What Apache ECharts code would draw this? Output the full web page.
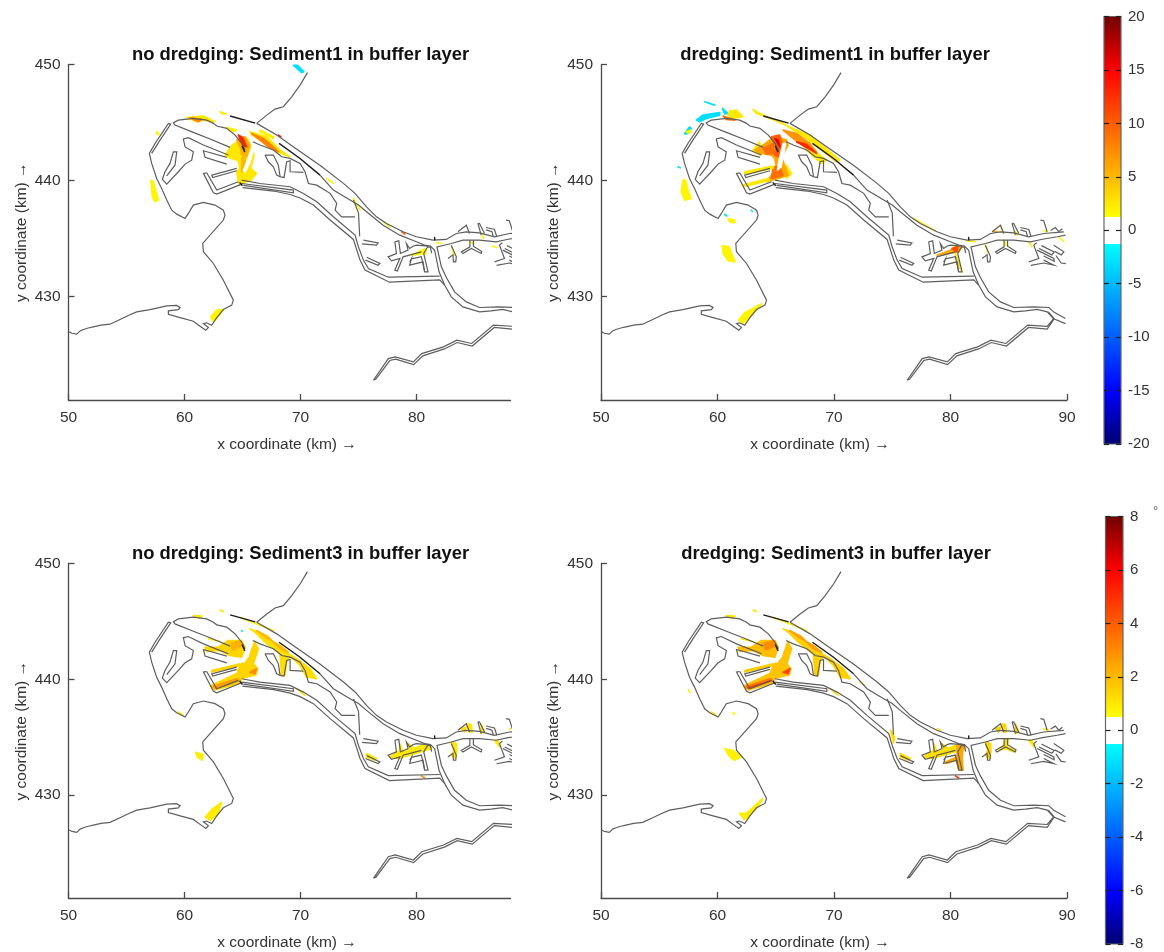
<!DOCTYPE html>
<html><head><meta charset="utf-8">
<style>html,body{margin:0;padding:0;background:#fff}#c{width:1164px;height:952px;filter:blur(0.45px)}</style>
<script src="https://cdn.jsdelivr.net/npm/echarts@6/dist/echarts.min.js"></script>
</head><body><div id="c"></div>
<script>
// ---- tick labels / text
const xTicks=[50,60,70,80], xTicksWide=[50,60,70,80,90], yTicks=[430,440,450];
const titles=['no dredging: Sediment1 in buffer layer','dredging: Sediment1 in buffer layer','no dredging: Sediment3 in buffer layer','dredging: Sediment3 in buffer layer'];
const barTop=[-20,20], barBottom=[-8,8];

// ---- outlines in km (x, y)
const westCoast=[[50.05,426.97],[50.3,426.85],[50.71,426.77],[51.0,427.05],[51.28,427.17],[51.7,427.3],[52.14,427.4],[52.8,427.55],[53.58,427.63],[54.44,428.03],[55.2,428.4],[55.88,428.69],[57.03,428.89],[58.47,429.21],[59.3,429.25],[59.62,429.07],[59.47,428.89],[58.61,428.78],[58.61,428.49],[59.62,428.2],[60.76,427.89],[61.34,427.46],[61.83,427.11],[62.06,427.34],[61.63,427.69],[61.9,427.75],[62.34,427.54],[62.78,428.2],[63.35,428.89],[64.07,429.27],[64.21,429.7],[63.35,431.42],[62.49,432.86],[61.63,433.87],[61.57,434.59],[63.35,436.6],[63.49,437.02],[63.35,437.45],[62.63,437.89],[61.63,438.12],[60.76,437.89],[60.33,437.17],[60.05,436.74],[59.33,437.11],[58.9,437.45],[58.47,438.32],[58.03,439.32],[57.6,440.18],[57.17,441.48],[56.97,442.34],[57.46,443.2],[58.61,444.93],[58.81,444.87],[57.89,443.49],[57.17,442.34]];
const peninsula=[[63.93,442.86],[62.2,443.58],[60.76,444.15],[59.18,444.78],[59.04,444.98],[59.47,445.21],[60.76,445.36],[61.91,445.21],[62.49,444.93],[62.78,444.7],[63.64,444.5],[64.36,443.92],[64.93,443.2],[65.22,442.63]];
const dockA=[[63.78,442.2],[61.63,443.06],[60.33,443.69],[59.9,443.58],[60.05,442.9],[60.76,442.48],[60.62,441.76],[60.05,441.42],[59.47,440.76],[58.47,439.7],[58.09,440.1],[58.32,440.76],[58.75,441.48],[59.04,442.48],[59.33,442.48],[59.18,441.33],[58.47,440.4]];
const dockB=[[63.64,442.0],[61.63,442.57],[61.77,442.0],[63.64,441.42]];
const dockC=[[64.5,441.05],[62.34,440.47],[62.43,440.27],[64.5,440.85]];
const dockD=[[61.91,440.67],[61.63,440.62],[62.49,438.95],[62.78,438.83],[64.93,439.7]];
const dockD2=[[61.91,440.67],[62.78,439.18],[64.64,439.9]];
const stripH=[[64.93,439.75],[69.38,439.18],[69.38,438.95],[65.07,439.58]];
const breakwaterN=[[70.6,449.3],[69.96,448.23],[69.24,447.22],[68.52,446.36],[67.8,446.16],[67.09,445.64],[66.22,444.93]];
const northBank=[[66.22,444.93],[67.95,443.92],[69.4,442.9],[71.7,441.3],[73.7,439.76],[74.7,438.9],[75.69,437.74],[76.55,436.88],[77.41,436.31],[78.84,435.59],[79.99,435.16],[81.42,434.87],[82.56,434.93],[83.43,435.44],[84.29,435.59],[85.43,435.5],[86.72,435.16],[88.0,435.44],[89.73,435.59]];
const southBank=[[71.68,440.47],[72.83,439.18],[74.27,438.32],[75.0,437.9],[75.69,437.31],[77.12,436.16],[78.56,435.3],[79.99,434.73],[80.7,434.44],[81.2,434.35],[81.56,434.0],[81.94,432.14],[82.42,431.0],[83.0,429.98],[84.0,429.12],[85.43,428.69],[86.43,428.78],[87.44,428.9],[88.3,428.69],[88.85,428.1],[89.87,427.68]];
const rightBank=[[89.87,435.3],[89.16,435.16],[87.9,434.95],[86.86,434.73],[85.43,434.87],[84.0,434.87],[83.0,434.58],[81.76,434.29],[82.14,432.57],[82.57,431.65],[83.28,430.41],[84.29,429.55],[85.43,429.07],[87.15,429.12],[88.44,429.07],[88.9,428.65],[89.87,428.12]];
const hartelN=[[64.93,440.04],[66.5,439.75],[69.1,439.47],[70.25,438.89],[71.4,438.18],[72.83,436.88],[74.7,435.3],[74.99,434.3],[75.42,433.15],[75.85,432.43],[77.57,431.68],[82.0,431.77]];
const hartelS=[[65.0,439.4],[67.7,439.1],[69.1,438.8],[69.96,438.5],[71.11,437.89],[72.55,436.6],[74.56,434.93],[75.13,433.15],[75.56,432.29],[77.66,431.25],[82.0,431.45],[82.42,431.0]];
const europoortE=[[65.88,443.35],[66.51,443.06],[67.66,442.63],[68.38,442.05],[69.1,441.91],[69.96,441.48],[70.39,440.76],[70.68,439.75],[71.4,439.61],[72.55,438.9],[73.12,438.03],[72.98,437.46],[73.55,436.88],[74.7,436.88]];
const europoortF=[[66.94,442.2],[67.66,442.2],[68.09,441.33],[68.24,440.33],[68.58,440.27],[68.81,441.62],[69.1,441.71],[69.1,440.76],[70.25,440.7]];
const europoortG=[[66.94,442.2],[67.23,441.62],[67.66,441.19],[67.95,440.47],[68.24,440.33]];
const innerLine=[[74.56,438.32],[75.0,437.2],[75.1,435.2]];
const stub1=[[75.42,434.87],[76.69,434.64],[76.55,434.44],[75.3,434.55]];
const stub2=[[75.71,433.4],[76.84,432.86],[76.69,432.71],[75.6,433.15]];
const botlek1=[[78.13,434.73],[78.47,434.81],[78.61,433.72],[79.27,434.01],[79.13,434.58],[79.41,434.15],[79.7,434.35],[79.99,434.44],[80.99,434.35]];
const botlek2=[[78.13,434.73],[78.27,433.72],[77.55,433.43],[77.84,433.09],[78.56,433.29],[78.13,432.28],[78.35,432.22],[78.84,433.43],[80.42,433.86]];
const botlek3=[[79.56,433.25],[80.42,433.45],[80.7,432.14],[80.99,432.14],[80.62,433.72],[80.99,434.35]];
const botlek4=[[79.41,433.0],[79.56,433.25],[79.41,432.72],[80.56,433.0],[80.7,432.14]];
const loopHook=[[80.9,434.3],[81.2,434.25],[81.3,433.75]];
const pet1=[[83.57,435.59],[84.29,436.16],[84.57,435.44]];
const pet2=[[85.29,436.31],[85.43,436.3],[85.86,435.44]];
const pet2b=[[85.29,436.31],[85.57,435.3]];
const pet3=[[86.0,435.96],[86.72,435.79],[86.92,435.16]];
const pet3b=[[86.0,435.76],[86.5,435.6],[86.62,435.16]];
const pet4=[[87.72,436.6],[88.0,436.54],[88.3,435.59]];
const pet5=[[88.6,435.7],[89.0,435.95],[89.3,435.6],[89.6,435.85]];
const sth1=[[82.99,434.44],[83.43,433.43],[83.38,433.0],[83.18,433.0],[83.14,433.6],[82.71,433.29]];
const sth2=[[84.6,434.87],[84.6,434.29],[83.86,433.86],[84.0,433.72],[84.72,434.15],[85.57,433.72],[85.62,433.9],[84.9,434.35],[84.9,434.87]];
const eCluster1=[[86.72,433.0],[87.58,433.29],[87.15,434.44],[87.4,434.65]];
const eCluster2=[[87.44,434.01],[88.87,433.29],[88.9,433.05],[88.0,433.5]];
const eCluster3=[[88.0,433.15],[88.87,432.71],[88.0,432.9],[86.9,432.7]];
const eCluster4=[[88.87,434.44],[89.73,433.86],[89.5,433.6],[88.95,433.9]];
const eCluster5=[[87.8,434.4],[88.9,433.85],[88.7,433.6],[87.6,434.15]];
const eCluster6=[[89.05,433.55],[89.5,432.9],[89.9,432.85]];
const southDike=[[76.28,422.8],[77.57,424.67],[78.15,424.82],[79.73,424.38],[80.45,425.1],[82.32,425.68],[83.47,426.25],[84.76,425.97],[86.63,427.55],[88.3,427.45],[88.87,428.12],[88.4,428.7],[88.9,428.1],[88.3,427.2],[86.7,427.35],[84.8,425.75],[83.5,426.05],[82.4,425.5],[80.55,424.9],[79.75,424.15],[78.2,424.62],[77.7,424.5],[76.5,422.9],[76.28,422.8]];
const greyOutlines=[westCoast,peninsula,dockA,dockB,dockC,dockD,dockD2,stripH,breakwaterN,northBank,southBank,rightBank,hartelN,hartelS,europoortE,europoortF,europoortG,innerLine,stub1,stub2,botlek1,botlek2,botlek3,botlek4,loopHook,pet1,pet2,pet2b,pet3,pet3b,pet4,pet5,sth1,sth2,eCluster1,eCluster2,eCluster3,eCluster4,eCluster5,eCluster6,southDike];
const darkLines=[[[63.93,445.56],[66.1,444.95]],[[68.15,443.2],[69.96,441.9],[71.68,440.47]],[[64.95,443.0],[65.2,442.45]],[[81.55,435.15],[81.58,434.85]],[[64.75,439.85],[65.0,439.55]]];

// ---- sediment patches in km
const p1Cyan=[[69.38,449.95],[69.67,450.0],[70.3,449.38],[70.1,449.3]];
const p1Basin=[[63.5,442.2],[64.1,443.05],[64.79,443.5],[65.36,443.7],[65.75,442.91],[66.0,442.2],[65.7,441.05],[66.2,440.62],[65.75,440.08],[65.07,439.8],[64.7,439.65],[64.5,440.76],[64.75,441.05],[64.65,441.7],[63.93,441.95]];
const p1White=[[65.94,443.2],[66.1,443.14],[65.6,441.48],[65.22,440.76],[65.08,440.85],[65.42,441.76]];
const p1Orange=[[64.5,443.49],[65.22,443.78],[65.65,443.06],[65.36,442.05],[64.93,442.2],[64.79,442.91]];
const p1Orange2=[[64.93,441.91],[65.22,442.2],[65.22,441.19],[64.93,440.76]];
const p1Red=[[64.64,443.92],[65.02,443.72],[65.36,442.91],[65.07,442.97]];
const p1Top=[[60.19,445.44],[61.63,445.56],[62.63,445.07],[61.63,445.21],[61.05,445.07]];
const p1TopO=[[60.48,445.41],[61.48,445.27],[61.2,445.07]];
const p1Spot=[[63.06,445.93],[63.58,445.73],[63.29,445.73]];
const p1ChanY=[[65.65,444.21],[67.09,443.78],[68.24,442.63],[69.1,442.05],[67.95,442.48],[66.8,443.35],[65.79,443.92]];
const p1ChanO=[[65.79,444.06],[66.8,443.63],[67.66,442.91],[68.09,442.48],[67.23,442.91]];
const p1Ribbon=[[66.51,444.35],[67.66,443.78],[67.66,443.63],[66.51,444.21]];
const p1Dark=[[68.09,443.92],[68.3,443.78]];
const p1Small=[[63.64,444.58],[64.5,444.35],[64.21,444.21]];
const p1West=[[57.1,440.04],[57.32,439.9],[57.75,438.32],[57.46,438.17],[57.23,438.6]];
const p1Dot=[[57.6,444.2],[57.8,444.05],[57.65,443.95]];
const p1South=[[62.26,428.26],[62.78,428.84],[63.35,428.89],[62.78,428.12],[62.43,427.89]];
const eastA=[[72.26,440.19],[72.83,439.76]];
const eastB=[[74.56,438.47],[75.13,437.46]];
const eastC=[[77.14,436.45],[77.72,436.02]];
const eastD=[[78.72,435.59],[79.01,435.39]];
const eastE=[[81.74,434.64],[82.17,434.58]];
const eastF=[[79.6,433.58],[80.74,434.15],[80.82,433.72]];
const eastG=[[83.03,434.3],[83.24,433.58]];
const eastH=[[84.62,434.73],[84.9,434.58]];
const eastI=[[85.62,435.45],[85.76,435.02]];
const eastJ=[[86.57,434.35],[86.92,434.21]];
const values1=[[-3,p1Cyan],[2.5,p1Basin],[5.5,p1Orange],[5,p1Orange2],[13,p1Red],[0,p1White],[2.5,p1Top],[8,p1TopO],[2.5,p1Spot],[2.5,p1ChanY],[8,p1ChanO],[2,p1Ribbon],[14,p1Dark],[2,p1Small],[1.8,p1West],[1.8,p1Dot],[1.8,p1South],[1.8,eastA],[1.8,eastB],[1.8,eastC],[10,eastD],[1.8,eastE],[1.8,eastF],[1.8,eastG],[1.8,eastH],[1.8,eastI],[1.8,eastJ]];

const p2Cyan1=[[58.18,445.21],[58.75,445.64],[60.19,445.87],[60.19,445.64],[59.04,445.35],[58.47,445.07]];
const p2Cyan2=[[58.9,446.79],[59.76,446.5]];
const p2Cyan3=[[60.42,446.22],[60.9,445.79],[60.62,445.73]];
const p2Cyan4=[[57.18,444.06],[57.61,444.63],[57.75,444.49],[57.32,444.0]];
const p2Cyan5=[[56.6,441.19],[56.8,441.1]];
const p2Cyan6=[[60.6,437.1],[60.8,436.95]];
const p2Cyan7=[[62.9,437.45],[63.0,437.35]];
const p2West=[[57.04,440.04],[57.26,440.04],[57.46,439.18],[57.75,438.46],[57.18,438.31],[56.89,439.03]];
const p2Dot=[[57.3,444.2],[57.75,444.35],[57.6,444.05]];
const p2TopY=[[61.05,446.0],[61.62,446.07],[62.19,445.5],[61.33,445.35],[60.9,445.64]];
const p2TopO=[[60.47,445.56],[61.48,445.21],[60.76,445.27]];
const p2Patch=[[60.9,436.73],[61.48,436.59],[61.48,436.36],[61.05,436.45]];
const p2Long=[[63.05,446.13],[63.63,445.79],[66.49,444.49],[67.92,443.92],[70.5,441.76],[70.2,441.62],[67.64,443.63],[65.63,444.92],[63.34,445.79]];
const p2Basin=[[63.2,442.63],[63.91,443.06],[64.48,443.49],[65.06,443.77],[65.92,443.49],[66.06,443.06],[65.49,442.05],[65.92,440.9],[66.06,440.47],[65.2,440.18],[64.2,439.9],[65.06,441.05],[64.91,441.91],[64.63,442.19],[63.77,442.34]];
const p2Y1=[[63.0,442.57],[63.63,443.34],[63.63,442.19]];
const p2Y2=[[65.92,441.33],[66.35,440.61],[65.92,440.18]];
const p2Core=[[64.63,443.77],[65.34,443.92],[65.63,442.91],[65.2,442.05],[64.91,442.19],[65.06,442.91]];
const p2CoreDark=[[64.95,443.6],[65.2,443.5],[65.35,442.9]];
const p2Core2=[[63.91,442.77],[64.77,443.2],[64.91,442.34],[64.2,442.28]];
const p2Low=[[64.77,441.19],[65.34,441.19],[65.63,440.47],[64.63,440.18]];
const p2White=[[65.63,443.2],[65.85,443.2],[65.45,441.19],[65.15,440.9],[65.29,441.76]];
const p2Rib=[[62.34,440.76],[64.77,441.25],[64.77,441.05],[62.34,440.56]];
const p2Arm=[[62.19,439.61],[64.34,440.18],[64.48,440.04],[62.48,439.52]];
const p2ChanY=[[66.49,444.06],[69.35,441.76],[68.93,441.48],[67.64,442.63]];
const p2ChanO=[[65.63,444.35],[66.78,444.06],[67.92,443.2],[68.5,442.48],[67.64,442.91],[66.49,443.63]];
const p2ChanD=[[66.78,443.34],[67.64,443.1],[68.5,442.34]];
const p2South=[[61.8,428.0],[62.3,428.6],[63.8,429.4],[63.0,428.5],[62.2,427.7]];
const p2Off=[[60.4,434.4],[61.0,434.3],[61.5,433.0],[60.9,433.1],[60.5,433.7]];
const p2E1=[[76.84,436.74],[78.7,435.67]];
const p2E2=[[78.84,433.57],[79.99,434.01],[80.56,434.44],[80.99,434.29],[80.7,433.86]];
const p2E3=[[80.13,434.15],[80.62,434.29],[80.56,433.86]];
const p2E4=[[80.42,433.72],[81.0,432.14],[80.56,433.0]];
const p2E5=[[81.42,434.81],[82.14,434.73]];
const p2E6=[[82.99,434.5],[83.2,433.8]];
const p2E7=[[84.57,434.87],[84.8,434.4]];
const p2E8=[[85.57,435.6],[85.72,435.3]];
const p2E9=[[84.29,436.1],[84.57,435.44]];
const p2E10=[[86.72,434.7],[87.0,434.3]];
const p2E11=[[88.0,435.7],[88.25,435.6]];
const p2E12=[[89.3,435.16],[89.73,434.73]];
const p2E13=[[83.7,435.6],[84.0,435.6]];
const values2=[[-3,p2Cyan1],[-3,p2Cyan2],[-3,p2Cyan3],[-3,p2Cyan4],[-3,p2Cyan5],[-3,p2Cyan6],[-3,p2Cyan7],[1.8,p2West],[1.8,p2Dot],[2.5,p2TopY],[9,p2TopO],[1.8,p2Patch],[2.5,p2Long],[2.5,p2Y1],[2.5,p2Y2],[6,p2Basin],[9,p2Core2],[9,p2Low],[10,p2Core],[16,p2CoreDark],[0,p2White],[2.5,p2Rib],[2.5,p2Arm],[2.5,p2ChanY],[7,p2ChanO],[13,p2ChanD],[1.8,p2South],[1.8,p2Off],[2,p2E1],[6,p2E2],[11,p2E3],[2.5,p2E4],[1.8,p2E5],[1.8,p2E6],[1.8,p2E7],[1.8,p2E8],[1.8,p2E9],[1.8,p2E10],[1.8,p2E11],[1.8,p2E12],[6,p2E13]];

const s3Arm=[[61.76,442.77],[62.91,442.77],[63.77,443.35],[64.92,443.35],[65.21,442.77],[64.92,441.91],[63.92,442.05],[63.06,442.49],[61.91,442.4]];
const s3Core=[[64.0,443.1],[64.78,443.3],[64.85,442.8],[64.1,442.55]];
const s3White=[[65.79,443.49],[65.98,443.43],[65.4,441.91],[65.1,441.48]];
const s3T=[[64.78,441.19],[65.6,441.91],[65.9,443.49],[66.36,442.63],[65.95,441.34],[66.3,440.91],[66.15,440.37],[64.92,440.09],[64.78,439.66],[62.63,439.08],[62.24,439.41],[64.5,440.5]];
const s3Tip=[[66.22,440.91],[66.07,440.47],[65.64,440.6]];
const s3Low=[[62.63,439.18],[64.78,439.9],[64.49,440.04],[62.42,439.38]];
const s3Rib=[[62.34,440.76],[64.78,441.34],[64.78,441.2],[62.34,440.62]];
const s3Chan=[[65.64,444.35],[67.08,443.78],[68.23,442.63],[69.67,441.77],[70.82,440.91],[71.39,440.04],[70.53,440.19],[69.95,441.19],[69.09,442.05],[68.8,441.48],[68.66,440.33],[68.37,440.33],[68.23,442.2],[66.94,443.2],[66.07,444.07]];
const s3ChanO=[[66.22,444.21],[67.22,443.64],[68.23,442.63],[68.95,442.34],[68.23,442.92],[66.94,443.64]];
const s3Top=[[60.76,445.5],[61.48,445.45],[61.33,445.27]];
const s3Top2=[[63.06,445.99],[63.34,445.85]];
const s3Thin=[[64.78,445.36],[67.65,444.21]];
const s3Near=[[59.46,437.17],[59.9,436.88]];
const s3Bank=[[69.67,439.18],[70.38,438.6]];
const s3Pen=[[62.05,443.5],[63.06,443.26]];
const s3Blue=[[64.92,444.21],[65.0,444.15]];
const s3South=[[61.8,428.1],[62.4,428.8],[63.2,429.35],[62.9,428.4],[62.2,427.8]];
const s3Off=[[60.96,433.7],[61.6,433.5],[61.5,433.0],[61.1,433.3]];
const s4Off=[[60.61,434.0],[61.32,433.87],[62.04,433.29],[61.47,433.0],[61.04,433.29]];
const s4South=[[61.9,428.41],[62.47,428.41],[63.9,429.7],[63.47,428.98],[62.33,427.84]];
const s4Spot1=[[57.5,439.1],[57.65,438.85]];
const s4Spot2=[[61.3,437.1],[61.5,437.0]];
const s4Red=[[62.61,439.24],[64.48,439.82]];
const s4Long=[[72.2,439.8],[72.6,439.5]];
const s4Mid=[[74.85,435.6],[75.2,435.0],[75.1,434.5]];
const eBot=[[77.7,433.29],[78.56,433.86],[78.56,434.44],[78.84,433.72],[79.41,433.86],[79.27,434.44],[79.84,434.01],[80.42,434.29],[81.13,434.29],[81.28,434.01],[80.85,433.86],[79.41,433.43],[78.41,433.15]];
const eBot2=[[79.56,432.86],[80.56,433.29],[80.56,434.29],[81.13,434.29],[81.0,433.29],[81.08,432.14],[80.85,432.14],[80.42,433.0],[79.7,432.72]];
const eSth1=[[83.0,434.58],[83.43,434.44],[83.48,433.72],[83.28,433.15],[83.0,433.43],[83.2,433.86]];
const eSth2=[[84.72,434.87],[84.95,434.87],[84.86,434.15],[85.57,433.86],[85.43,433.72],[84.72,434.01],[84.14,433.86],[84.57,434.29]];
const ePet1=[[84.43,436.16],[84.72,436.08],[84.8,435.44],[84.52,435.44]];
const ePet2=[[83.86,435.73],[84.29,435.87],[84.14,435.44]];
const ePet3=[[85.57,436.16],[85.86,435.44],[85.57,435.3]];
const eQ=[[86.72,434.73],[87.0,434.73],[87.15,434.15]];
const eEnd=[[88.0,435.73],[88.44,435.59]];
const eN=[[78.9,435.73],[79.13,435.59]];
const eStub=[[75.69,433.58],[76.55,433.15],[76.4,433.0],[75.69,433.29]];
const eHart=[[80.42,431.65],[80.7,431.48]];
const values3=[[1,s3Near],[1,s3Top],[1,s3Top2],[0.8,s3Thin],[1,s3Pen],[1.4,s3T],[2.6,s3Low],[3,s3Tip],[1.4,s3Rib],[1.4,s3Arm],[2.2,s3Core],[0,s3White],[1.2,s3Chan],[2,s3ChanO],[1,s3Bank],[-1,s3Blue],[0.9,s3South],[0.9,s3Off],[1,eBot],[1,eSth1],[1,ePet1],[1,ePet3],[1.2,ePet2],[1,eQ],[0.9,eEnd],[1,eStub],[3,eHart]];
const values4=[[1,s3Near],[1,s3Top],[1,s3Top2],[0.8,s3Thin],[1,s3Pen],[1.8,s3T],[3.4,s3Low],[5,s4Red],[4.5,s3Tip],[1.6,s3Rib],[1.9,s3Arm],[3,s3Core],[0,s3White],[1.5,s3Chan],[2.6,s3ChanO],[1,s3Bank],[0.9,s4South],[0.8,s4Off],[0.8,s4Spot1],[0.8,s4Spot2],[1,s4Long],[1.2,s4Mid],[1.2,eBot],[2.4,eBot2],[1.4,eSth1],[1.2,eSth2],[1.4,ePet1],[1.5,ePet2],[1.4,ePet3],[1,eQ],[1,eEnd],[1,eN],[1.2,eStub],[5,eHart]];

// ---- colour scale (value as a share of the colour bar's half range)
const colourStops=[[-1,[0,0,112]],[-0.75,[0,0,255]],[-0.0625,[0,255,255]],[-0.0625,[255,255,255]],[0.0625,[255,255,255]],[0.0625,[255,255,0]],[0.75,[255,0,0]],[1,[112,0,0]]];
function rgb(c){return 'rgb('+c.map(Math.round).join(',')+')';}
function colourOf(t){
  if(t===0) return '#fff';
  for(let i=0;i<colourStops.length-1;i++){
    const a=colourStops[i],b=colourStops[i+1];
    if(t>=a[0]&&t<=b[0]&&b[0]>a[0]){
      if(a[1][0]===255&&a[1][1]===255&&a[1][2]===255) continue;
      const f=(t-a[0])/(b[0]-a[0]);
      return rgb(a[1].map((v,k)=>v+(b[1][k]-v)*f));
    }
  }
  return '#fff';
}
const gradient=colourStops.map(s=>({offset:1-(s[0]+1)/2,color:rgb(s[1])})).reverse();

// ---- layout
const INK='#333', AXIS='#4a4a4a', FONT='"Liberation Sans",Arial,sans-serif';
const panels=[
 {l:68.5,t:64.5,w:442,h:335.5,xmax:88.1,ticks:xTicks,vals:values1,range:20,nameShift:5,titleCentre:300.5},
 {l:601,t:64.5,w:466,h:335.5,xmax:90,ticks:xTicksWide,vals:values2,range:20,nameShift:28,titleCentre:835},
 {l:68.5,t:563.5,w:442,h:335,xmax:88.1,ticks:xTicks,vals:values3,range:8,nameShift:5,titleCentre:300.5},
 {l:601,t:563.5,w:466,h:335,xmax:90,ticks:xTicksWide,vals:values4,range:8,nameShift:28,titleCentre:836}
];
const grid=[],xAxis=[],yAxis=[],series=[],title=[];
panels.forEach((p,i)=>{
  grid.push({left:p.l,top:p.t,width:p.w,height:p.h});
  const line={lineStyle:{color:AXIS,width:1.3}};
  xAxis.push({type:'value',gridIndex:i,min:50,max:p.xmax,splitLine:{show:false},axisLine:{onZero:false,...line},
    axisTick:{inside:true,length:6,customValues:p.ticks,...line},
    axisLabel:{customValues:p.ticks,color:INK,fontSize:15.5,fontFamily:FONT,margin:10},
    name:'x coordinate (km) \u2192',nameLocation:'middle',nameGap:37,
    nameTextStyle:{color:INK,fontSize:15.5,fontFamily:FONT,padding:[0,p.nameShift,0,0]}});
  yAxis.push({type:'value',gridIndex:i,min:421.1,max:450,splitLine:{show:false},axisLine:{onZero:false,...line},
    axisTick:{inside:true,length:6,customValues:yTicks,...line},
    axisLabel:{customValues:yTicks,color:INK,fontSize:15.5,fontFamily:FONT,margin:8},
    name:'y coordinate (km) \u2192',nameLocation:'middle',nameGap:39,
    nameTextStyle:{color:INK,fontSize:15.5,fontFamily:FONT}});
  title.push({text:titles[i],left:p.titleCentre-5,top:p.t-24,textAlign:'center',
    textStyle:{color:'#111',fontSize:18.4,fontWeight:'bold',fontFamily:FONT}});
  series.push({type:'custom',xAxisIndex:i,yAxisIndex:i,clip:true,silent:true,z:2,
    data:p.vals.map((v,k)=>[k]),
    renderItem:(params,api)=>{
      const item=p.vals[params.dataIndex];
      const col=colourOf(item[0]/p.range);
      return {type:'polygon',shape:{points:item[1].map(c=>api.coord(c))},style:{fill:col,stroke:col,lineWidth:1.6,lineJoin:'round'}};
    }});
  series.push({type:'lines',coordinateSystem:'cartesian2d',xAxisIndex:i,yAxisIndex:i,polyline:true,clip:true,silent:true,z:3,
    lineStyle:{color:'#5e5e5e',width:1.2,opacity:1},data:greyOutlines.map(c=>({coords:c}))});
  series.push({type:'lines',coordinateSystem:'cartesian2d',xAxisIndex:i,yAxisIndex:i,polyline:true,clip:true,silent:true,z:4,
    lineStyle:{color:'#1c1c1c',width:1.4,opacity:1},data:darkLines.map(c=>({coords:c}))});
});
// colour bars
[{l:1104,t:16.5,w:17,h:427.5,r:barTop,step:5},{l:1105.5,t:516.5,w:17.5,h:427.5,r:barBottom,step:2}].forEach(b=>{
  const gi=grid.length;
  grid.push({left:b.l,top:b.t,width:b.w,height:b.h});
  xAxis.push({type:'value',gridIndex:gi,min:0,max:1,show:false});
  const tick={inside:true,length:5,lineStyle:{color:'#222',width:1.2}};
  const yi=yAxis.length;
  yAxis.push({type:'value',gridIndex:gi,position:'right',z:10,min:b.r[0],max:b.r[1],interval:b.step,splitLine:{show:false},
    axisLine:{show:false,onZero:false},axisTick:tick,
    axisLabel:{color:INK,fontSize:15,fontFamily:FONT,margin:7,padding:[5,0,0,0]}});
  yAxis.push({type:'value',gridIndex:gi,position:'left',z:10,min:b.r[0],max:b.r[1],interval:b.step,splitLine:{show:false},
    axisLine:{show:false,onZero:false},axisTick:tick,axisLabel:{show:false}});
  series.push({type:'custom',xAxisIndex:gi,yAxisIndex:yi,silent:true,z:1,data:[[0,b.r[0],1,b.r[1]]],
    renderItem:(params,api)=>{
      const a=api.coord([api.value(0),api.value(3)]),c=api.coord([api.value(2),api.value(1)]);
      return {type:'rect',shape:{x:a[0],y:a[1],width:c[0]-a[0],height:c[1]-a[1]},
        style:{fill:new echarts.graphic.LinearGradient(0,0,0,1,gradient),stroke:'#666',lineWidth:1.2}};
    }});
});
const chart=echarts.init(document.getElementById('c'),null,{renderer:'canvas'});
chart.setOption({animation:false,backgroundColor:'#fff',title,grid,xAxis,yAxis,series,
  graphic:[{type:'text',left:1153,top:505,style:{text:'\u00b0',fontSize:13,fill:'#555',fontFamily:FONT}}]});
</script></body></html>
